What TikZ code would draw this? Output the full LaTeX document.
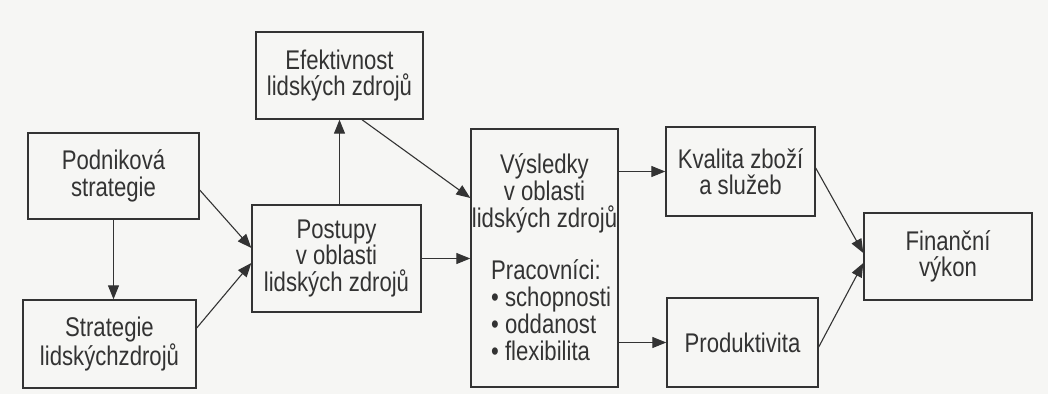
\documentclass[tikz,border=0pt]{standalone}
\usepackage{fontspec}
\setmainfont{Liberation Sans}[FakeStretch=0.82]
\usetikzlibrary{arrows.meta,calc}
\definecolor{ink}{HTML}{333333}
\definecolor{paper}{HTML}{F6F6F4}
\begin{document}
\begin{tikzpicture}[x=1pt,y=-1pt,
  box/.style={draw=ink, line width=1.4pt, inner sep=0pt, align=center,
    font=\fontsize{27}{26.5}\selectfont, text=ink},
  txt/.style={inner sep=0pt, font=\fontsize{27}{27}\selectfont, text=ink},
  conn/.style={draw=ink, line width=1.1pt, -{Triangle[length=14pt,width=11pt]}}]
\fill[paper] (0,0) rectangle (1048,394);
\useasboundingbox (0,0) rectangle (1048,394);

\node[box, minimum width=171pt, minimum height=86pt] (pod) at (113.5,176) {Podniková\\strategie};
\node[box, minimum width=173pt, minimum height=88pt] (str) at (109.5,344) {Strategie\\lidskýchzdrojů};
\node[box, minimum width=167pt, minimum height=87pt] (efe) at (339.5,75.5) {Efektivnost\\lidských zdrojů};
\node[box, minimum width=169pt, minimum height=107pt] (pos) at (336.5,258.5) {Postupy\\v oblasti\\lidských zdrojů};
\node[box, minimum width=147pt, minimum height=258pt] (vys) at (544.5,258) {};
\node[txt, align=center] (vystop) at (544.5,193) {Výsledky\\v oblasti\\lidských zdrojů};
\node[txt, align=left, anchor=west] (vysbot) at (491,310) {Pracovníci:\\• schopnosti\\• oddanost\\• flexibilita};
\node[box, minimum width=149pt, minimum height=89pt] (kva) at (740.5,171.5) {Kvalita zboží\\a služeb};
\node[box, minimum width=151pt, minimum height=89pt] (pro) at (742.5,342.5) {Produktivita};
\node[box, minimum width=168pt, minimum height=87pt] (fin) at (948,256.5) {Finanční\\výkon};

\draw[conn] (pod.south) -- (pod.south |- str.north);
\draw[conn] ([yshift=-14pt]pod.east) -- ([yshift=10.5pt]pos.west);
\draw[conn] ([yshift=16pt]str.east) -- ([yshift=-4.5pt]pos.west);
\draw[conn] (efe.south |- pos.north) -- (efe.south);
\draw[conn] ([xshift=22.5pt]efe.south) -- ([yshift=60pt]vys.west);
\draw[conn] (pos.east) -- (pos.east -| vys.west);
\draw[conn] (kva.west -| vys.east) -- (kva.west);
\draw[conn] (pro.west -| vys.east) -- (pro.west);
\draw[conn] ([yshift=3.5pt]kva.east) -- ([yshift=3.5pt]fin.west);
\draw[conn] ([yshift=-4.5pt]pro.east) -- ([yshift=-6.5pt]fin.west);
\end{tikzpicture}
\end{document}
